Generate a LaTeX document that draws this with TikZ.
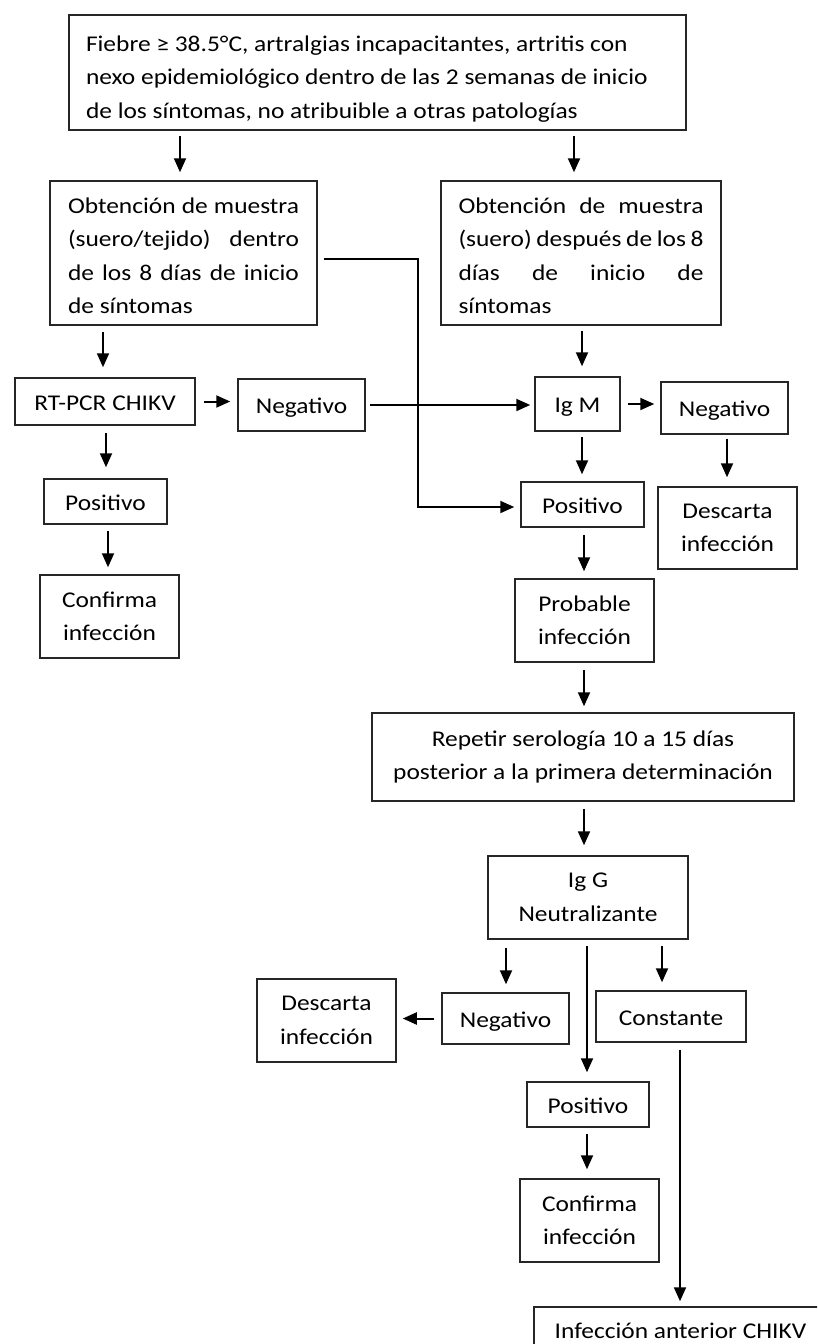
\documentclass[tikz,border=0pt]{standalone}
\usepackage{fontspec}
\setmainfont{Carlito}[FakeStretch=1.13]
\usetikzlibrary{arrows.meta}
\tikzset{
  box/.style={draw=black!85, line width=1.5pt, inner sep=0pt,
    font=\fontsize{22.5}{33.5}\selectfont},
  one/.style={box, text height=22pt, text depth=5pt},
  two/.style={box, align=flush center},
  arr/.style={draw=black, line width=2pt, -{Triangle[length=14pt,width=12pt]}},
}
\begin{document}
\begin{tikzpicture}[x=1pt,y=-1pt]
\useasboundingbox (0,0) rectangle (817,1344);
\clip (0,0) rectangle (817,1344);
% nodes
\node[box, text width=583pt, inner xsep=17pt, minimum height=115pt, align=flush left] (top) at (377.5,72.5)
  {\rule{0pt}{28pt}Fiebre ≥ 38.5°C, artralgias incapacitantes, artritis con\\nexo epidemiológico dentro de las 2 semanas de inicio\\de los síntomas, no atribuible a otras patologías};
\node[box, text width=231pt, inner xsep=18pt, minimum height=144pt, align=flush left] (obtL) at (183.5,253)
  {\rule{0pt}{21pt}\makebox[231pt][s]{Obtención de muestra}\\\makebox[231pt][s]{(suero/tejido) dentro}\\\makebox[231pt][s]{de los 8 días de inicio}\\de síntomas};
\node[box, text width=245pt, inner xsep=17.5pt, minimum height=144pt, align=flush left] (obtR) at (581,253)
  {\rule{0pt}{21pt}\makebox[245pt][s]{Obtención de muestra}\\\makebox[245pt][s]{(suero) después de los 8}\\\makebox[245pt][s]{días de inicio de}\\síntomas};
\node[one, minimum width=180pt, minimum height=47pt] (rtpcr) at (105,401.5) {RT-PCR CHIKV};
\node[one, minimum width=127pt, minimum height=52pt] (neg1) at (301.5,405) {Negativo};
\node[one, minimum width=85pt, minimum height=54pt] (igm) at (577.5,404) {Ig M};
\node[one, minimum width=127pt, minimum height=52pt] (neg2) at (724.5,408) {Negativo};
\node[one, minimum width=123pt, minimum height=45pt] (pos1) at (105.5,501.5) {Positivo};
\node[two, minimum width=139pt, minimum height=83pt] (conf1) at (109.5,616.5) {Confirma\\infección};
\node[one, minimum width=123pt, minimum height=45pt] (pos2) at (582.5,504.5) {Positivo};
\node[two, minimum width=139pt, minimum height=82pt] (desc1) at (727.5,528) {Descarta\\infección};
\node[two, minimum width=139pt, minimum height=83pt] (prob) at (584.5,620.5) {Probable\\infección};
\node[two, minimum width=422pt, minimum height=88pt] (rep) at (583,757) {Repetir serología 10 a 15 días\\posterior a la primera determinación};
\node[two, minimum width=200pt, minimum height=83pt] (igg) at (588,897.5) {Ig G\\Neutralizante};
\node[two, minimum width=139pt, minimum height=83pt] (desc2) at (326.5,1020.5) {Descarta\\infección};
\node[one, minimum width=127pt, minimum height=51pt] (neg3) at (505.5,1018.5) {Negativo};
\node[one, minimum width=150pt, minimum height=51pt] (const) at (671,1016.5) {Constante};
\node[one, minimum width=122pt, minimum height=45pt] (pos3) at (588,1104.5) {Positivo};
\node[two, minimum width=139pt, minimum height=83pt] (conf2) at (589.5,1220.5) {Confirma\\infección};
\node[box, text height=15pt, text depth=5pt, minimum width=293pt, minimum height=52pt] (inf) at (680.5,1333) {Infección anterior CHIKV};
% helper coordinates for connector positions
\coordinate (x180) at (180,0);
\coordinate (x574) at (574,0);
\coordinate (x103) at (103,0);
\coordinate (x582) at (582,0);
\coordinate (x106) at (106,0);
\coordinate (x108) at (108,0);
\coordinate (x584) at (584,0);
\coordinate (x727) at (727,0);
\coordinate (x506) at (506,0);
\coordinate (x587) at (587,0);
\coordinate (x662) at (662,0);
\coordinate (x680) at (680,0);
\coordinate (y259) at (0,259);
\coordinate (bend1) at (418,259);
\coordinate (bend2) at (418,507);
\coordinate (y507) at (0,507);
% connectors
\draw[arr, shorten <=5pt, shorten >=8pt] (top.south -| x180) -- (obtL.north -| x180);
\draw[arr, shorten <=5pt, shorten >=8pt] (top.south -| x574) -- (obtR.north -| x574);
\draw[arr, shorten <=6pt, shorten >=10pt] (obtL.south -| x103) -- (rtpcr.north -| x103);
\draw[arr, shorten <=5pt, shorten >=10pt] (obtR.south -| x582) -- (igm.north -| x582);
\draw[arr, shorten <=8pt, shorten >=7pt] (rtpcr.east) -- (neg1.west |- rtpcr.east);
\draw[arr, shorten <=4pt, shorten >=4pt] (neg1.east) -- (igm.west |- neg1.east);
\draw[arr, shorten <=7pt, shorten >=6pt] (igm.east) -- (neg2.west |- igm.east);
\draw[arr, shorten <=7pt, shorten >=11pt] (rtpcr.south -| x106) -- (pos1.north -| x106);
\draw[arr, shorten <=5pt, shorten >=7pt] (igm.south -| x582) -- (pos2.north -| x582);
\draw[arr, shorten <=4pt, shorten >=9pt] (neg2.south -| x727) -- (desc1.north -| x727);
\draw[arr, shorten >=6pt] ([xshift=6pt]obtL.east |- y259) -- (bend1) -- (bend2) -- (pos2.west |- y507);
\draw[arr, shorten <=6pt, shorten >=7pt] (pos1.south -| x108) -- (conf1.north -| x108);
\draw[arr, shorten <=7pt, shorten >=7pt] (pos2.south -| x584) -- (prob.north -| x584);
\draw[arr, shorten <=7pt, shorten >=6pt] (prob.south -| x584) -- (rep.north -| x584);
\draw[arr, shorten <=7pt, shorten >=10pt] (rep.south -| x584) -- (igg.north -| x584);
\draw[arr, shorten <=8pt, shorten >=8pt] (igg.south -| x506) -- (neg3.north -| x506);
\draw[arr, shorten <=6pt, shorten >=9pt] (igg.south -| x587) -- (pos3.north -| x587);
\draw[arr, shorten <=6pt, shorten >=8pt] (igg.south -| x662) -- (const.north -| x662);
\draw[arr, shorten <=7pt, shorten >=6pt] (neg3.west) -- (desc2.east |- neg3.west);
\draw[arr, shorten <=7pt, shorten >=5pt] (const.south -| x680) -- (inf.north -| x680);
\draw[arr, shorten <=6pt, shorten >=9pt] (pos3.south -| x587) -- (conf2.north -| x587);
\end{tikzpicture}
\end{document}
